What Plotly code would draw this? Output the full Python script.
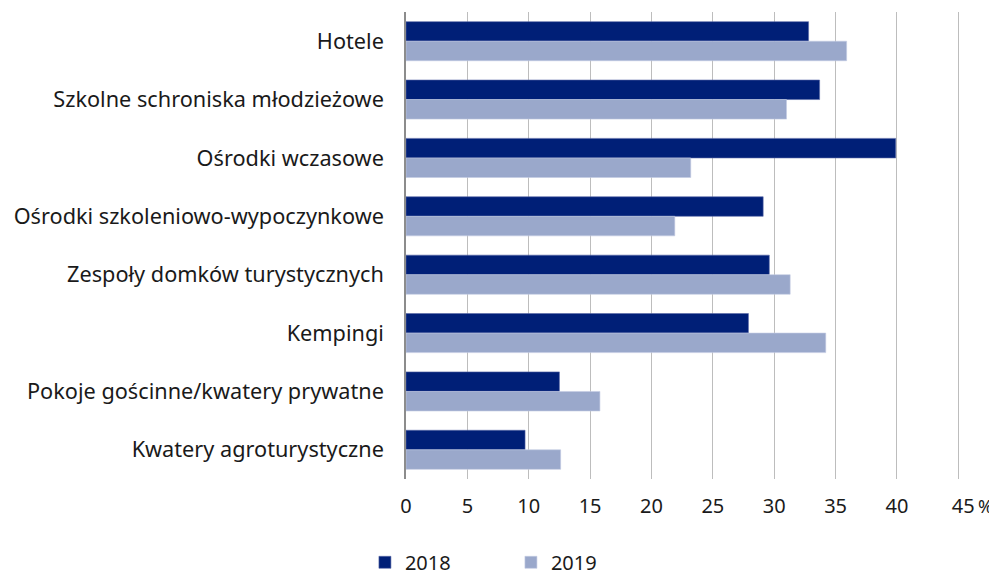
import plotly.graph_objects as go

categories = [
    "Hotele",
    "Szkolne schroniska młodzieżowe",
    "Ośrodki wczasowe",
    "Ośrodki szkoleniowo-wypoczynkowe",
    "Zespoły domków turystycznych",
    "Kempingi",
    "Pokoje gościnne/kwatery prywatne",
    "Kwatery agroturystyczne",
]
values_2018 = [32.8, 33.7, 39.9, 29.1, 29.6, 27.9, 12.5, 9.7]
values_2019 = [35.9, 31.0, 23.2, 21.9, 31.3, 34.2, 15.8, 12.6]
tick_values = [0, 5, 10, 15, 20, 25, 30, 35, 40, 45]
tick_labels = ["0", "5", "10", "15", "20", "25", "30", "35", "40",
               "\u2007\u2007\u200845\u2009<span style='font-size:18px'>%</span>"]

FONT = "Noto Sans"
fig = go.Figure()
fig.add_trace(go.Bar(
    y=categories, x=values_2018, name="2018", orientation="h",
    marker=dict(color="#001f77", line=dict(color="#5a6aa8", width=0.6)),
))
fig.add_trace(go.Bar(
    y=categories, x=values_2019, name="2019", orientation="h",
    marker=dict(color="#9aa8cb", line=dict(color="#c3cbe3", width=0.6)),
))

fig.update_layout(
    width=997, height=575,
    margin=dict(l=398, r=43, t=4, b=104),
    paper_bgcolor="white", plot_bgcolor="white",
    barmode="group", bargap=0.33, bargroupgap=0,
    font=dict(family=FONT, size=20, color="#1a1a1a"),
    showlegend=True,
    legend=dict(orientation="h", xref="container", yref="container",
                x=0.358, xanchor="left", y=0.036, yanchor="middle",
                font=dict(size=20), entrywidth=101, entrywidthmode="pixels",
                traceorder="normal"),
    xaxis=dict(range=[0, 45.3], tickvals=tick_values, ticktext=tick_labels,
               showgrid=True, gridcolor="#bdbdbd", gridwidth=1.3,
               zeroline=False, showline=False, ticks="", ticklabelstandoff=13,
               tickfont=dict(size=20), automargin=False, fixedrange=True),
    yaxis=dict(autorange="reversed", showgrid=False, zeroline=False,
               showline=True, linecolor="#8c8c8c", linewidth=1.5,
               ticks="", ticklabelstandoff=16, tickfont=dict(size=21.7),
               automargin=False),
)

fig.write_html("out.html")
